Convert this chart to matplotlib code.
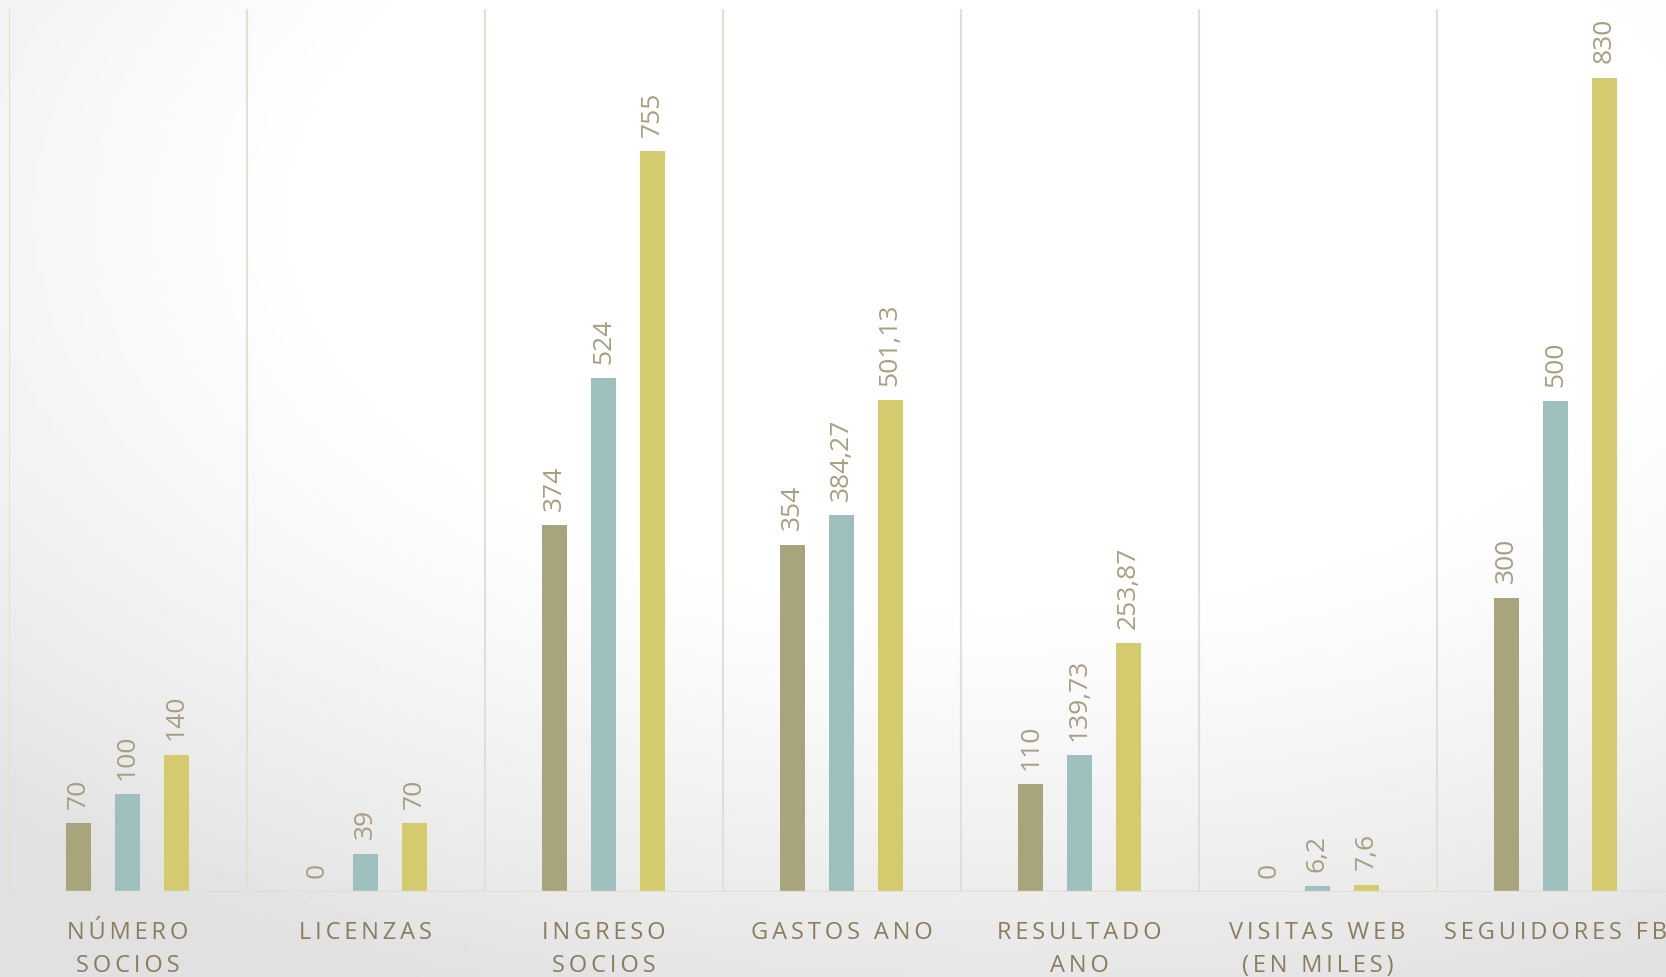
import numpy as np
import matplotlib
matplotlib.use("Agg")
import matplotlib.pyplot as plt

categories = ["NÚMERO\nSOCIOS", "LICENZAS", "INGRESO\nSOCIOS", "GASTOS ANO",
              "RESULTADO\nANO", "VISITAS WEB\n(EN MILES)", "SEGUIDORES FB"]
serie_1 = [70, 0, 374, 354, 110, 0, 300]
serie_2 = [100, 39, 524, 384.27, 139.73, 6.2, 500]
serie_3 = [140, 70, 755, 501.13, 253.87, 7.6, 830]
colors = ["#a8a47c", "#9dbfbe", "#d3cb6d"]

plt.rcParams['font.family'] = ['Open Sans', 'DejaVu Sans']

W, H = 1666, 978
fig = plt.figure(figsize=(W / 100, H / 100), dpi=100)

# slide background: soft gray gradient toward the edges / lower corners
bg = fig.add_axes([0, 0, 1, 1])
yy, xx = np.mgrid[0:1:200j, 0:1:340j]
d = np.sqrt(((xx - 0.6) * 1.0) ** 2 + ((yy - 0.22) * 1.05) ** 2)
shade = 1 - np.clip((d - 0.4) / 0.5, 0, 1) ** 1.2 * 0.12
bg.imshow(shade, cmap="gray", vmin=0, vmax=1, extent=[0, 1, 0, 1],
          origin="upper", aspect="auto")
bg.axis("off")

def fmt(v):
    if float(v).is_integer():
        return str(int(v))
    return ("%g" % v).replace(".", ",")

def spaced(s):
    return "\n".join("\u2009".join(line) for line in s.split("\n"))

x0 = 8.5 / W
w = 7 * 238 / W
y0 = (H - 893) / H
h = (893 - 10) / H
ax = fig.add_axes([x0, y0, w, h])
ax.patch.set_alpha(0)

x = np.arange(len(categories))
bw = 0.107
off = 0.205
for i, (vals, c) in enumerate(zip([serie_1, serie_2, serie_3], colors)):
    pos = x + (i - 1) * off
    ax.bar(pos, vals, width=bw, color=c, zorder=3)
    for p, v in zip(pos, vals):
        ax.annotate(fmt(v), (p, v), xytext=(0, 11), textcoords="offset points",
                    rotation=90, ha="center", va="bottom", fontsize=19,
                    color="#a89f80")

ax.set_xlim(-0.5, len(categories) - 0.5)
ax.set_ylim(0, 900)
for b in np.arange(-0.5, len(categories), 1.0):
    ax.axvline(b, color="#e2dfd3", lw=1.5, zorder=1)
ax.axhline(0, color="#e2dfd3", lw=2.5, zorder=4)
for s in ax.spines.values():
    s.set_visible(False)
ax.set_yticks([])
ax.set_xticks(x)
ax.set_xticklabels([spaced(c) for c in categories], fontsize=17,
                   color="#8b7d5e", linespacing=1.5)
ax.tick_params(axis="x", length=0, pad=20)

fig.savefig("out.png", dpi=100)
